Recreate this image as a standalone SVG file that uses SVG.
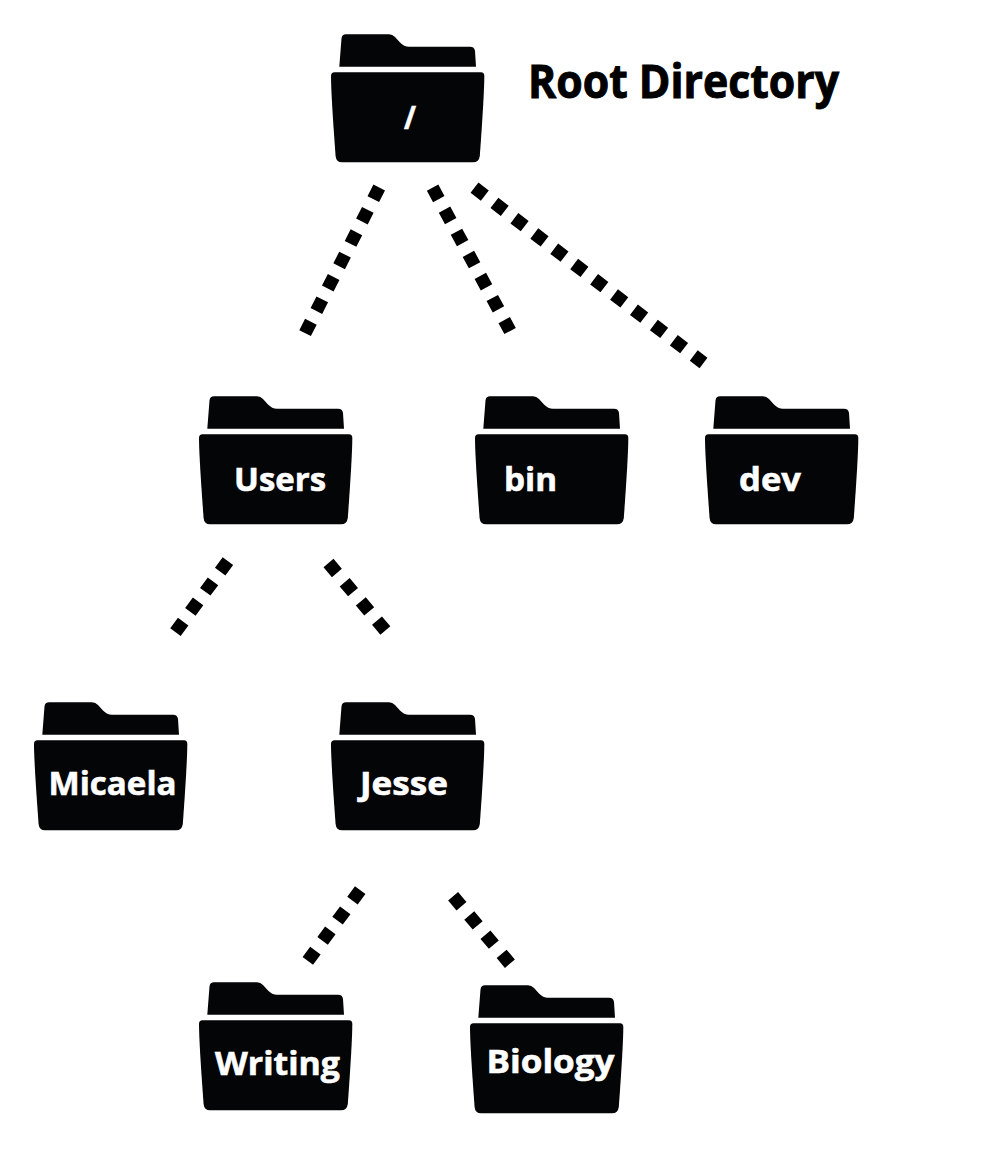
<svg xmlns="http://www.w3.org/2000/svg" width="990" height="1175" viewBox="0 0 990 1175">
<style>
text{font-family:"Open Sans","Noto Sans","Liberation Sans",sans-serif;font-weight:700;fill:#fff}
.t{font-size:33px;stroke:#fff;stroke-width:.6}
#root-label{font-size:47px;fill:#000;stroke:#000;stroke-width:1}
#connectors line{stroke:#000;stroke-width:13;stroke-dasharray:13 12.1;fill:none}
.f{fill:#030506}
</style>
<defs>
<g id="folder">
<path class="f" d="M8.3 32.7 L10.5 4.5 Q11 .3 15 .3 L58 .3 Q61.5 .3 64 3 L69 8.5 Q73 12.7 78 12.7 L139 12.7 Q143.5 12.7 144 17 L145 32.7 Z"/>
<path class="f" d="M3.5 38.3 L150 38.3 Q153.3 38.3 153.3 42 Q153.3 60 148.8 122 Q148 128.3 142 128.3 L11 128.3 Q5.2 128.3 4.6 122 Q0 60 0 42 Q0 38.3 3.5 38.3 Z"/>
</g>
</defs>
<rect width="990" height="1175" fill="#fff"/>
<g id="connectors">
<line x1="379.2" y1="187.5" x2="305.1" y2="333.1"/>
<line x1="432.6" y1="187.6" x2="510.1" y2="331"/>
<line x1="474.5" y1="187.7" x2="703.5" y2="363"/>
<line x1="227.9" y1="561.1" x2="175.4" y2="632.2"/>
<line x1="328.5" y1="563" x2="385.5" y2="630.7"/>
<line x1="360.2" y1="890.1" x2="307.8" y2="960.9"/>
<line x1="453.1" y1="896.3" x2="509.9" y2="963.7"/>
</g>
<g id="node-root"><use href="#folder" x="331" y="34"/><text class="t" x="404" y="129" textLength="12" lengthAdjust="spacingAndGlyphs">/</text></g>
<text id="root-label" x="528" y="98" textLength="311" lengthAdjust="spacingAndGlyphs">Root Directory</text>
<g id="node-users"><use href="#folder" x="199" y="396"/><text class="t" x="234" y="491" textLength="92" lengthAdjust="spacingAndGlyphs">Users</text></g>
<g id="node-bin"><use href="#folder" x="475" y="396"/><text class="t" x="504" y="491" textLength="53" lengthAdjust="spacingAndGlyphs">bin</text></g>
<g id="node-dev"><use href="#folder" x="705" y="396"/><text class="t" x="739" y="491" textLength="62" lengthAdjust="spacingAndGlyphs">dev</text></g>
<g id="node-micaela"><use href="#folder" x="34" y="702"/><text class="t" x="48.5" y="795" textLength="128" lengthAdjust="spacingAndGlyphs">Micaela</text></g>
<g id="node-jesse"><use href="#folder" x="331" y="702"/><text class="t" x="360" y="795" textLength="88" lengthAdjust="spacingAndGlyphs">Jesse</text></g>
<g id="node-writing"><use href="#folder" x="199" y="982"/><text class="t" x="215" y="1075" textLength="125" lengthAdjust="spacingAndGlyphs">Writing</text></g>
<g id="node-biology"><use href="#folder" x="470" y="985"/><text class="t" x="486.5" y="1073" textLength="128" lengthAdjust="spacingAndGlyphs">Biology</text></g>
</svg>
